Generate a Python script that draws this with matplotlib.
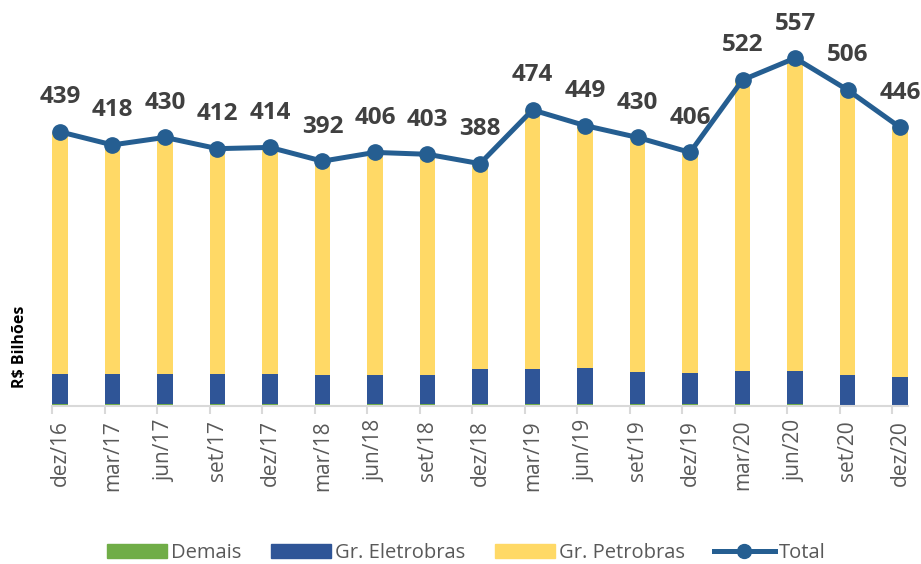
import numpy as np
import matplotlib
matplotlib.use('Agg')
import matplotlib.pyplot as plt
from matplotlib.lines import Line2D
from matplotlib.patches import Patch

# Data (R$ bilhões)
periodos = ['dez/16', 'mar/17', 'jun/17', 'set/17', 'dez/17', 'mar/18', 'jun/18',
            'set/18', 'dez/18', 'mar/19', 'jun/19', 'set/19', 'dez/19', 'mar/20',
            'jun/20', 'set/20', 'dez/20']
demais = [4, 4, 4, 4, 4, 4, 4, 4, 4, 4, 4, 4, 4, 4, 4, 0, 0]
eletrobras = [47, 47, 48, 47, 47, 46, 46, 45, 55, 55, 57, 50, 49, 52, 52, 50, 46]
petrobras = [388, 367, 378, 361, 363, 342, 356, 354, 329, 415, 388, 376, 353, 466, 501, 456, 400]
total = [439, 418, 430, 412, 414, 392, 406, 403, 388, 474, 449, 430, 406, 522, 557, 506, 446]

c_demais = '#70AD47'
c_eletro = '#2F5597'
c_petro = '#FFD966'
c_total = '#255E91'
c_text = '#595959'

plt.rcParams['font.family'] = ['Open Sans', 'DejaVu Sans']

fig = plt.figure(figsize=(9.21, 5.64), dpi=100)
ax = fig.add_axes([52 / 921, 158 / 564, 856 / 921, 406 / 564])

x = np.arange(len(periodos))
w = 0.3
ax.bar(x, demais, w, color=c_demais)
ax.bar(x, eletrobras, w, bottom=demais, color=c_eletro)
base = np.array(demais) + np.array(eletrobras)
ax.bar(x, petrobras, w, bottom=base, color=c_petro)

ax.plot(x, total, color=c_total, lw=3.6, marker='o', markersize=11,
        markerfacecolor=c_total, markeredgecolor=c_total, zorder=5)

for xi, v in zip(x, total):
    ax.annotate(str(v), (xi, v), xytext=(0, 20.5), textcoords='offset points',
                ha='center', va='baseline', fontsize=17.5, fontweight='bold',
                color='#404040')

ax.set_xlim(-w / 2, len(periodos) - 1 + w / 2)
ax.set_ylim(0, 650)

for s in ['top', 'right', 'left']:
    ax.spines[s].set_visible(False)
ax.spines['bottom'].set_color('#D9D9D9')
ax.spines['bottom'].set_linewidth(1.5)
ax.set_yticks([])

ax.set_xticks(x)
ax.set_xticklabels(periodos, rotation=90, fontsize=15, color=c_text)
ax.tick_params(axis='x', which='major', length=0, pad=10)
ax.set_xticks(x - w / 2, minor=True)
ax.tick_params(axis='x', which='minor', length=6, color='#D9D9D9', width=1.5)

fig.text(20 / 921, 1 - 347 / 564, 'R$ Bilhões', rotation=90, ha='center',
         va='center', fontsize=11.5, fontweight='bold', color='black')

handles = [
    Patch(color=c_demais, label='Demais'),
    Patch(color=c_eletro, label='Gr. Eletrobras'),
    Patch(color=c_petro, label='Gr. Petrobras'),
    Line2D([0], [0], color=c_total, lw=3.6, marker='o', markersize=10, label='Total'),
]
leg = fig.legend(handles=handles, loc='center', bbox_to_anchor=(466 / 921, 1 - 553 / 564),
                 ncol=4, frameon=False, fontsize=14.5, handlelength=3.0,
                 handleheight=0.7, handletextpad=0.2, columnspacing=1.45)
for t in leg.get_texts():
    t.set_color(c_text)

fig.savefig('out.png', dpi=100)
